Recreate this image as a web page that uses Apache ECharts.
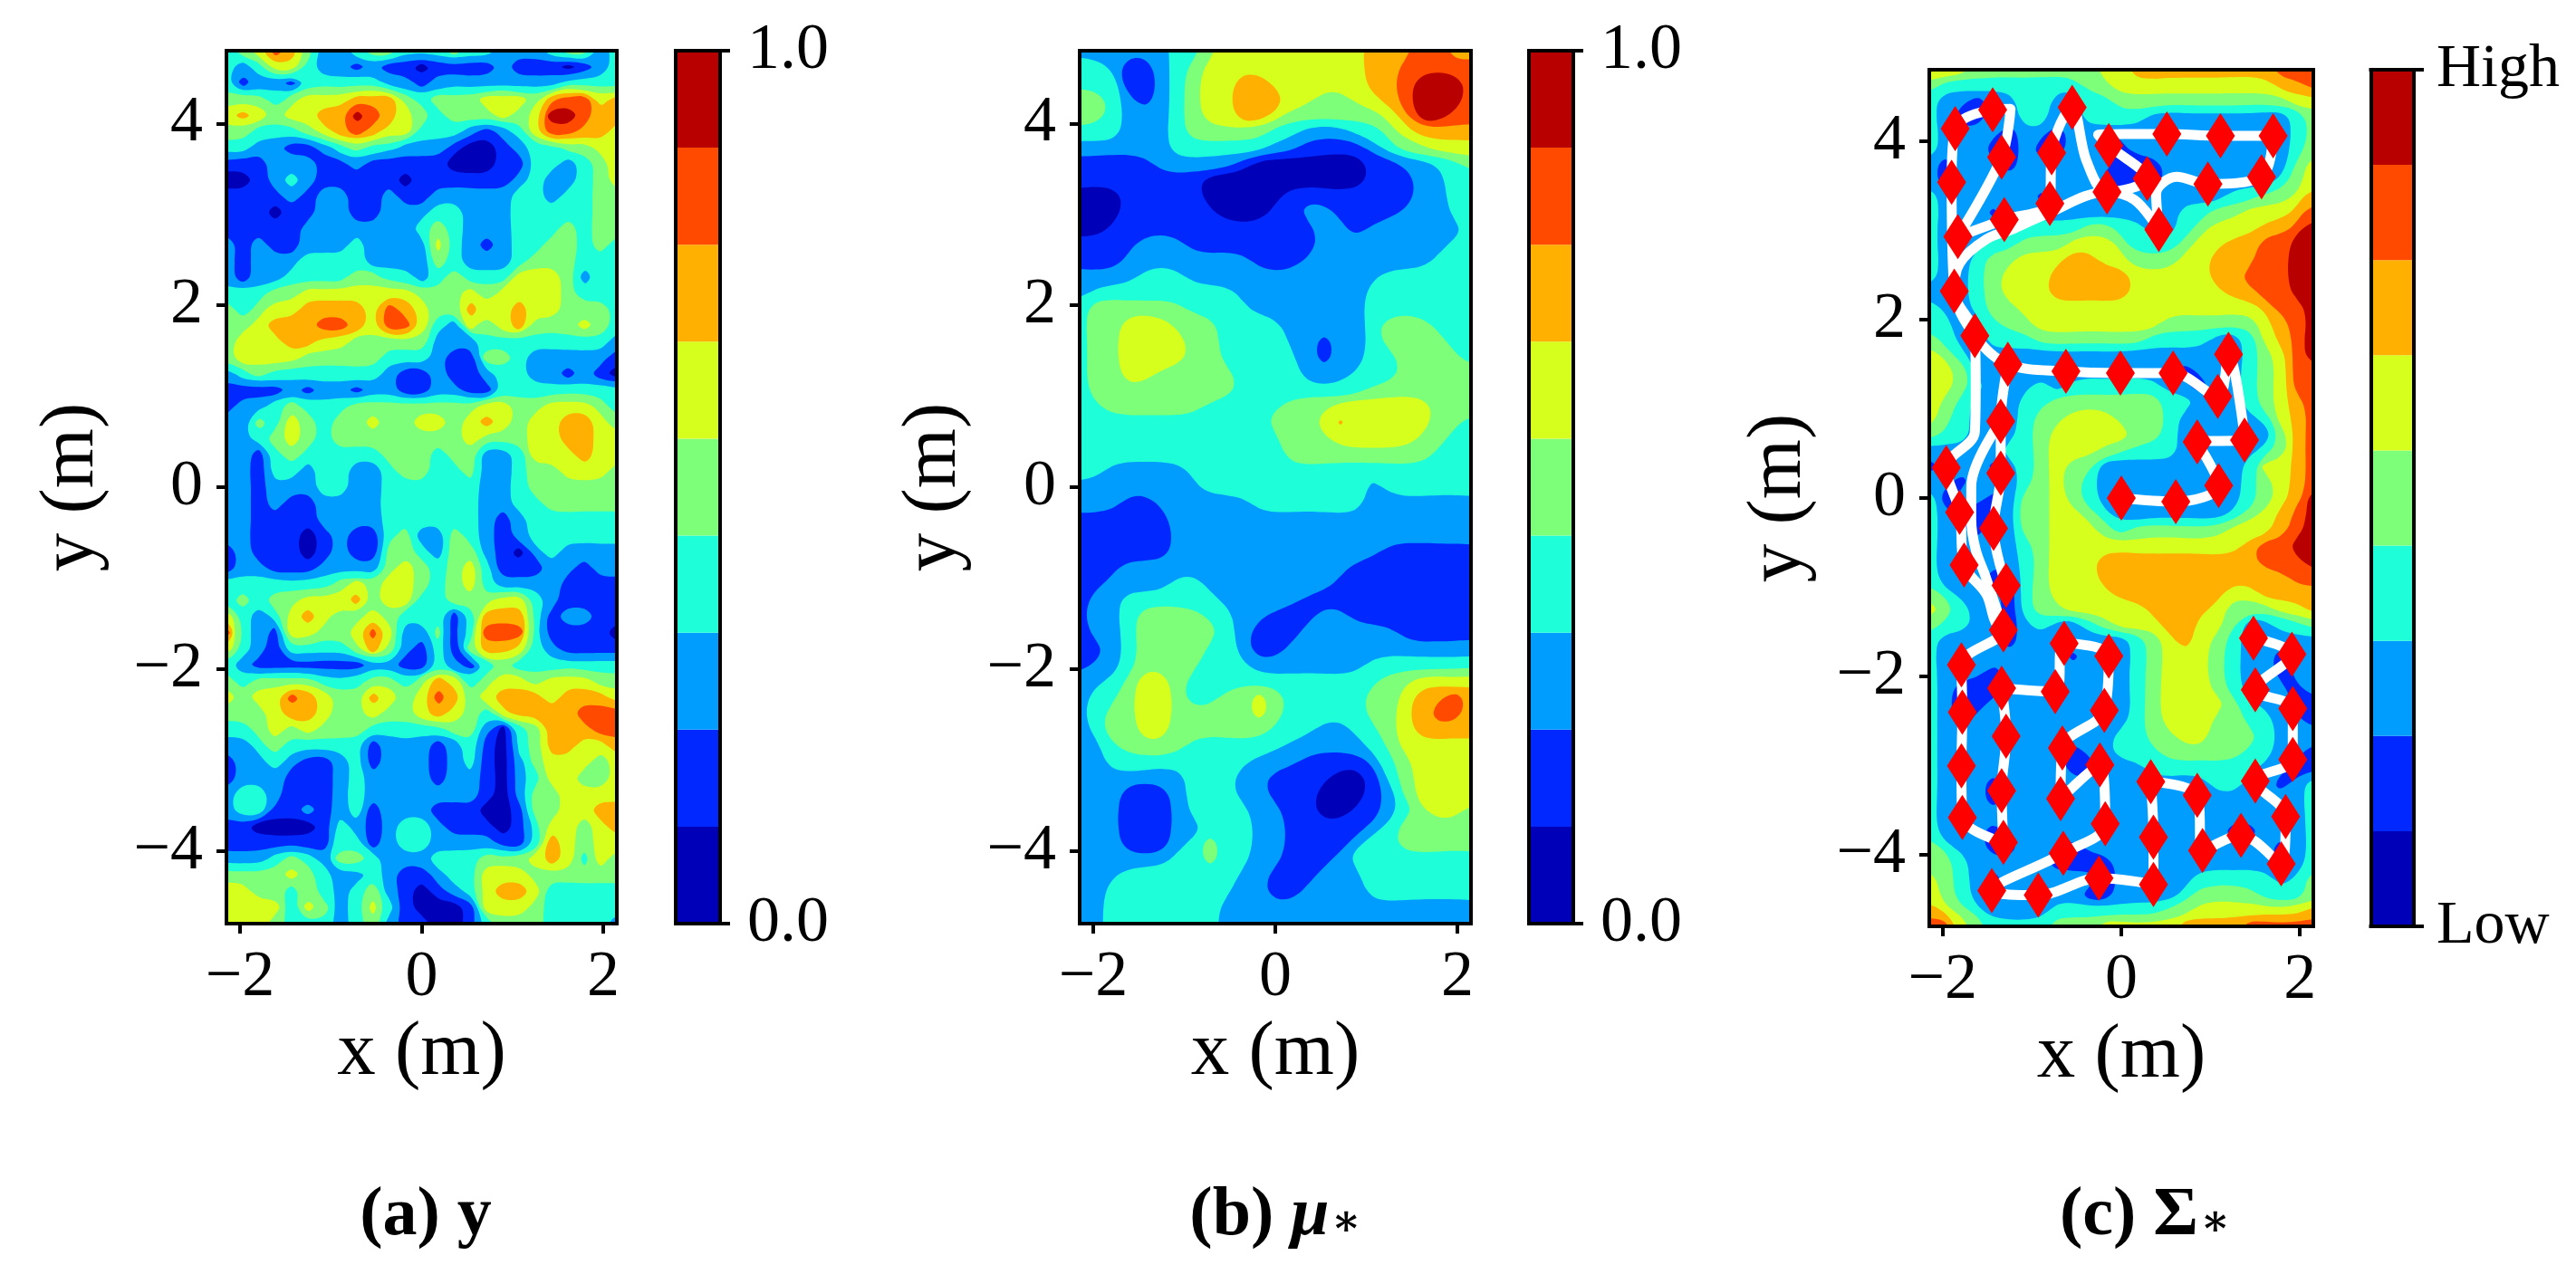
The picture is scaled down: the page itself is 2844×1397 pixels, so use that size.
<!DOCTYPE html>
<html><head><meta charset="utf-8">
<script src="https://cdn.jsdelivr.net/npm/echarts@6/dist/echarts.min.js"></script>
<style>html,body{margin:0;padding:0;background:#fff}#c{width:2844px;height:1397px}</style>
</head><body><div id="c"></div>
<script>
// Contour level (0..8) on a regular sample lattice; rows run from y=+4.8 down to y=-4.8, columns from x=-2.15 to x=+2.15
const levelsY = [
"3457642234433343322234423","3235532212110111121110123","3122133333221222222223333","4443455566643444555467756",
"5654556687654344454588766","4433345676553332123577665","3322112343322210012334455","1112221121111100011332345",
"0012321111101111112322345","1111212211211222223323344","1110112211222332223333344","1111122222223432223334344",
"2121122232222532123344343","2122233332222432223444333","2122333344332343335554233","3334455555554445455554333",
"4345566665765446556554443","4456667765775325456444543","4555665544444222333333332","4555544444333211443222221",
"2343333333211211233221210","1111212212211221133333333","1223433344444444554455543","2243543445445545654556654",
"2234543444444445444556655","2213433333444344223555655","2213323322344334223445554","2212223322333333223444444",
"2212112222333333223344444","2211112222333333212333333","2211101211342243212333333","1211101211443244210232222",
"1221112222454345311122122","3333333454554345322221111","3434455564553344455321111","5323565445433313666312211",
"7321554457522413777311110","5321333346421314665321111","3211111112211321343333333","4344443334434653455455544",
"5455765446545764566656665","4445665445445654356666777","3345454443333344203466677","2234333331222123103466556",
"1223211231222123102455545","1222111232222122102355445","2332111232222222102445555","2331121231222111001445566",
"1100001321233211101355456","1111111331233222211365455","2223432443222333444565354","4444543223211233555444444",
"5544343234210123566533333","5555354235310001555433333","5554333234211001344433332"];
const levelsMu = [
"2222223345555555556667766","3321123455555555556677777","3331123455665555556678887","4432123455666554455678887",
"4432223455665444444568877","3332223444443322233456666","2222223333332211112344555","1111122222100000001122334",
"1111111100000000001112233","0001111100000111111112233","0001111110001122111122233","0011111111111112212222223",
"1111222111111112222222233","1112222222211122222222333","2222333222222222222333333","2333333333222222223333333",
"3444444333322222223333333","3445554443333222223444333","3445555443333221223444433","3445555443333321223344443",
"3445544444333322233344444","3444444444333333334444444","3344444433333444555555444","3333333333334445655555443",
"3333333333333444555554433","3333333333333444444444333","3322222333333333333333333","2222222233333333332333333",
"2221122222233333332222222","1111112222222222222222222","1111112222222222222222222","1111112222222222222111111",
"1112222222222222211111111","1122223322222222111111111","1223333332222211111111111","1223444433221112211111111",
"1223444443211122222211111","1123444433211222222222222","1223444433322222223333333","2234554333333333333445555",
"2334554334454333334456676","2344554444454333334456776","2344554444443332233456666","2234444333333222223455555",
"2233333333322211112345555","2222222333221111001345555","2221112333221110001245555","2221112333322110011234554",
"2221112233322111112344444","2221112343322111123344444","2222223343322111233333333","2223333333221112223333333",
"2233333333221122223333333","2233333332222222222222222","2233333332222222222222222"];
const levelsSigma = [
"6554444444455666666666777","4333333333445555555555667","3221223322334444444444455","3211223322333322222222234",
"3222212212212222222222234","3222112112211222222222234","2122212222221112222221245","2122222222211112222222345",
"3222222122222222222334456","3222122222222222334455567","3222233333443322345556678","3222334445554333455667788",
"3223445556655444556667788","3223455566666555556677788","2223455566666555555667788","3223445555555555555556778",
"3322344555555554444445678","4322333444444433332235678","5432222222222222222234578","5542222222222222122234577",
"5543222323333332212234577","5432223344444443322234567","5432123445554443222223567","4332223455555443222222467",
"2222233455544333222223467","1222123454422222222235567","2212223454322222222234567","3122124454322222222234568",
"3211224455432222222345678","3221224455543444444555678","3222223455555555555567788","3222223455566666666667778",
"3222113455566666666666677","4322213455556666666556666","5432213445555566665444556","4332212322345556655422334",
"3222212222222345654322222","3222222221222345554322122","3222122222222345554322122","3211122222222345554322212",
"3211222222222345555432211","3212222222222345554433221","3222222222223344554443222","3222222221223334444433221",
"3212222221122233333332211","3222122222222222223322123","3222122222222222222222223","3212222222212222222222223",
"3222122222212212222112223","4322112221222212212222123","4432222211112222222222123","5432122222212222233333234",
"5432122222112222344443334","6543222233333334455555556","7754333344455555666677777"];

const xTicks = [-2, 0, 2];
const yTicks = [-4, -2, 0, 2, 4];
const barEdgeTicks = [0, 1];
const barLabelsNumeric = ["0.0", "1.0"];
const barLabelsSigma = ["Low", "High"];
const bandShare = [1/9, 1/9, 1/9, 1/9, 1/9, 1/9, 1/9, 1/9, 1/9];
const levelColors = ["#0000b9","#0028ff","#009dff","#1effd9","#7dff7a","#d7ff1e","#ffb000","#ff4a00","#b90000"];

// Sample locations (marker diamonds) in metres
const markerX = [-1.86,-1.44,-1.34,-1.90,-1.83,-1.31,-0.80,-0.78,-0.55,-0.14,-0.16,0.29,0.51,1.11,1.70,1.57,0.97,0.42,-1.87,-1.64,-1.27,-0.62,-0.01,0.58,1.20,1.08,1.38,0.85,1.09,0.61,0.00,-1.96,-1.35,-1.35,-1.81,-1.43,-1.76,-1.29,-1.32,-1.79,-1.34,-1.78,-1.29,-1.79,-1.34,-1.78,-1.32,-0.64,-0.14,-0.74,-0.19,-0.66,-0.24,-0.68,-0.18,-0.65,-0.25,-0.93,-1.45,0.36,0.36,0.33,0.85,0.91,1.34,1.79,1.84,1.50,1.92,1.92,1.50,1.91,1.48];
const markerY = [4.14,4.35,3.82,3.54,2.93,3.12,3.30,3.87,4.38,3.95,3.43,3.58,4.08,4.06,4.06,3.60,3.52,3.01,2.32,1.82,1.50,1.42,1.40,1.40,1.61,1.14,0.65,0.63,0.14,-0.04,0.00,0.34,0.86,0.28,-0.16,-0.34,-0.75,-0.98,-1.48,-1.87,-2.13,-2.40,-2.67,-3.00,-3.28,-3.58,-3.86,-1.63,-1.77,-2.17,-2.38,-2.80,-2.99,-3.37,-3.65,-3.98,-4.26,-4.45,-4.40,-4.33,-3.80,-3.18,-3.33,-3.95,-3.78,-4.10,-3.57,-3.17,-2.93,-2.36,-2.15,-1.75,-1.57];
// Robot route through those samples (null separates strands)
const routeX = [0.00,0.61,1.09,0.85,1.38,1.20,1.08,0.58,-0.01,-0.62,-1.27,-1.64,-1.87,-1.90,-1.86,-1.44,-1.24,-1.34,-1.83,-1.31,-0.80,-0.78,-0.55,-0.39,-0.16,0.29,-0.14,-0.26,0.51,1.11,1.70,1.57,0.97,0.62,0.39,0.42,0.15,-0.16,-0.87,-1.20,-1.51,-1.81,-1.87,-1.64,-1.63,-1.64,-1.96,-1.81,-1.76,-1.51,-1.41,-1.32,-1.79,-1.78,-1.79,-1.78,-1.32,-1.34,-1.29,-1.34,-0.74,-0.64,-0.14,-0.19,-0.66,-0.68,-0.24,-0.18,-0.65,-1.45,-0.93,-0.25,0.36,0.36,0.33,0.85,0.91,1.34,1.79,1.84,1.50,1.92,1.92,1.50,1.91,1.48,null,-1.27,-1.35,-1.35,-1.43,-1.29,null,-1.35,-1.68,-1.68,-1.63,-1.52,-1.32];
const routeY = [0.00,-0.04,0.14,0.63,0.65,1.61,1.14,1.40,1.40,1.42,1.50,1.82,2.32,3.54,4.14,4.35,4.36,3.82,2.93,3.12,3.30,3.87,4.38,3.78,3.43,3.58,3.95,4.07,4.08,4.06,4.06,3.60,3.52,3.60,3.41,3.01,3.34,3.43,3.17,3.02,2.90,2.63,2.32,1.82,1.25,0.74,0.34,-0.16,-0.75,-1.08,-1.39,-1.48,-1.87,-2.40,-3.00,-3.58,-3.86,-3.28,-2.67,-2.13,-2.17,-1.63,-1.77,-2.38,-2.80,-3.37,-2.99,-3.65,-3.98,-4.40,-4.45,-4.26,-4.33,-3.80,-3.18,-3.33,-3.95,-3.78,-4.10,-3.57,-3.17,-2.93,-2.36,-2.15,-1.75,-1.57,null,1.50,0.86,0.28,-0.34,-0.98,null,0.86,0.13,-0.24,-0.58,-0.88,-1.48];

const serif = '"Liberation Serif","DejaVu Serif",serif';
const XR = 2.15, YR = 4.8;
const panels = [
  {rows: levelsY,     fair: 1, g: {left: 250,  top: 56, width: 431, height: 964}, bar: {left: 746,    top: 56, width: 49, height: 964}, labels: barLabelsNumeric, labelSize: 72, nameGap: 128},
  {rows: levelsMu,    fair: 5, g: {left: 1192, top: 56, width: 432, height: 964}, bar: {left: 1688,   top: 56, width: 49, height: 964}, labels: barLabelsNumeric, labelSize: 72, nameGap: 118},
  {rows: levelsSigma, fair: 3, g: {left: 2130, top: 77, width: 424, height: 946}, bar: {left: 2617.5, top: 77, width: 47.5, height: 946}, labels: barLabelsSigma, labelSize: 68, nameGap: 123}
];

// Trace iso-lines between adjacent levels into closed loops (painter's order, largest first).
function traceLoops(rows, fair) {
  const PAD = 3, ny0 = rows.length, nx0 = rows[0].length, ny = ny0 + 2 * PAD, nx = nx0 + 2 * PAD;
  const at = (i, j) => {
    if (i === 0 || j === 0 || i === ny - 1 || j === nx - 1) return -9;
    const r = Math.min(ny0 - 1, Math.max(0, i - PAD)), c = Math.min(nx0 - 1, Math.max(0, j - PAD));
    return +rows[r][c];
  };
  const X = j => -XR + 2 * XR * (j - PAD) / (nx0 - 1), Y = i => YR - 2 * YR * (i - PAD) / (ny0 - 1);
  const loops = [{level: 0, area: Infinity, pts: [[-9, -9], [9, -9], [9, 9], [-9, 9]]}];
  for (let lev = 1; lev <= 8; lev++) {
    const t = lev - 0.5, next = {}, pos = {};
    for (let i = 0; i < ny - 1; i++) for (let j = 0; j < nx - 1; j++) {
      const corners = [[i, j], [i, j + 1], [i + 1, j + 1], [i + 1, j]];
      const keys = ['h' + i + '_' + j, 'v' + i + '_' + (j + 1), 'h' + (i + 1) + '_' + j, 'v' + i + '_' + j];
      const v = corners.map(p => at(p[0], p[1]));
      for (let e = 0; e < 4; e++) {
        const a = v[e], b = v[(e + 1) % 4];
        if ((a >= t) === (b >= t)) continue;
        const f = (t - a) / (b - a), p = corners[e], q = corners[(e + 1) % 4];
        pos[keys[e]] = [p[1] + f * (q[1] - p[1]), p[0] + f * (q[0] - p[0])];
        if (a < t) {
          let g = (e + 1) % 4;
          while (!(v[g] >= t && v[(g + 1) % 4] < t)) g = (g + 1) % 4;
          next[keys[e]] = keys[g];
        }
      }
    }
    const seen = {};
    Object.keys(next).forEach(k0 => {
      if (seen[k0]) return;
      let k = k0; const raw = [];
      while (k !== undefined && !seen[k]) { seen[k] = 1; raw.push(pos[k]); k = next[k]; }
      if (raw.length < 3) return;
      let a2 = 0;
      raw.forEach((p, n) => { const q = raw[(n + 1) % raw.length]; a2 += p[0] * q[1] - q[0] * p[1]; });
      // fair the staircase of the lattice without shrinking the shape
      let pts = raw;
      for (let it = 0; it < fair * 2; it++) {
        const w = it % 2 ? -0.53 : 0.5;
        pts = pts.map((p, n) => {
          const A = pts[(n + pts.length - 1) % pts.length], B = pts[(n + 1) % pts.length];
          return [p[0] + w * ((A[0] + B[0]) / 2 - p[0]), p[1] + w * ((A[1] + B[1]) / 2 - p[1])];
        });
      }
      loops.push({level: a2 < 0 ? lev : lev - 1, area: Math.abs(a2), pts: pts.map(p => [X(p[0]), Y(p[1])])});
    });
  }
  loops.sort((a, b) => b.area - a.area);
  return loops;
}

const grid = [], xAxis = [], yAxis = [], series = [];
const blackLine = {show: true, onZero: false, lineStyle: {color: '#000', width: 4, cap: 'square'}};
const fmt = v => String(v).replace('-', '\u2212');
panels.forEach((p, k) => {
  const gi = grid.length;
  grid.push(Object.assign({containLabel: false}, p.g));
  const xi = xAxis.length, yi = yAxis.length;
  xAxis.push({gridIndex: gi, type: 'value', min: -XR, max: XR, z: 10, position: 'bottom', name: 'x (m)', nameLocation: 'middle', nameGap: 100,
    nameTextStyle: {fontFamily: serif, fontSize: 85, color: '#000'}, axisLine: blackLine, splitLine: {show: false},
    axisTick: {show: true, inside: false, length: 11, customValues: xTicks, lineStyle: {color: '#000', width: 4}},
    axisLabel: {show: true, customValues: xTicks, margin: 24, fontFamily: serif, fontSize: 72, color: '#000', formatter: fmt}});
  xAxis.push({gridIndex: gi, type: 'value', min: -XR, max: XR, z: 10, position: 'top', axisLine: blackLine, splitLine: {show: false}, axisTick: {show: false}, axisLabel: {show: false}});
  yAxis.push({gridIndex: gi, type: 'value', min: -YR, max: YR, z: 10, position: 'left', name: 'y (m)', nameLocation: 'middle', nameGap: p.nameGap,
    nameTextStyle: {fontFamily: serif, fontSize: 85, color: '#000'}, axisLine: blackLine, splitLine: {show: false},
    axisTick: {show: true, inside: false, length: 11, customValues: yTicks, lineStyle: {color: '#000', width: 4}},
    axisLabel: {show: true, customValues: yTicks, margin: 26, fontFamily: serif, fontSize: 72, color: '#000', formatter: fmt}});
  yAxis.push({gridIndex: gi, type: 'value', min: -YR, max: YR, z: 10, position: 'right', axisLine: blackLine, splitLine: {show: false}, axisTick: {show: false}, axisLabel: {show: false}});
  const loops = traceLoops(p.rows, p.fair);
  series.push({type: 'custom', coordinateSystem: 'cartesian2d', xAxisIndex: xi, yAxisIndex: yi, silent: true, animation: false, z: 2, progressive: 0, clip: true,
    encode: {x: 0, y: 1}, dimensions: ['x', 'y', 'loop'],
    data: loops.map((l, i) => [l.pts[0][0], l.pts[0][1], i]),
    renderItem: (params, api) => {
      const l = loops[api.value(2)];
      return {type: 'polygon', silent: true, shape: {points: l.pts.map(q => api.coord(q)), smooth: l.area === Infinity ? 0 : 0.35},
        style: {fill: levelColors[l.level]}};
    }});
  if (k === 2) {
    series.push({type: 'line', xAxisIndex: xi, yAxisIndex: yi, z: 3, silent: true, animation: false, showSymbol: false, symbol: 'none', connectNulls: false, smooth: 0.35,
      lineStyle: {color: '#fff', width: 11, cap: 'round', join: 'round'}, data: routeX.map((v, i) => [v, routeY[i]])});
    series.push({type: 'scatter', xAxisIndex: xi, yAxisIndex: yi, z: 4, silent: true, animation: false, symbol: 'diamond', symbolSize: [32, 50],
      itemStyle: {color: '#ff0000', opacity: 1}, data: markerX.map((v, i) => [v, markerY[i]])});
  }
  // colour bar
  const bi = grid.length;
  grid.push(Object.assign({containLabel: false}, p.bar));
  const bxi = xAxis.length, byi = yAxis.length;
  xAxis.push({gridIndex: bi, type: 'category', data: [''], z: 10, position: 'bottom', axisLine: blackLine, axisTick: {show: false}, axisLabel: {show: false}, splitLine: {show: false}});
  xAxis.push({gridIndex: bi, type: 'category', data: [''], z: 10, position: 'top', axisLine: blackLine, axisTick: {show: false}, axisLabel: {show: false}, splitLine: {show: false}});
  yAxis.push({gridIndex: bi, type: 'value', min: 0, max: 1, z: 10, position: 'right', axisLine: blackLine, splitLine: {show: false},
    axisTick: {show: true, inside: false, length: 11, customValues: barEdgeTicks, lineStyle: {color: '#000', width: 4}},
    axisLabel: {show: true, customValues: barEdgeTicks, margin: k === 2 ? 25 : 30, fontFamily: serif, fontSize: p.labelSize, color: '#000', formatter: v => p.labels[v]}});
  yAxis.push({gridIndex: bi, type: 'value', min: 0, max: 1, z: 10, position: 'left', axisLine: blackLine, splitLine: {show: false}, axisTick: {show: false}, axisLabel: {show: false}});
  bandShare.forEach((s, i) => series.push({type: 'bar', xAxisIndex: bxi, yAxisIndex: byi, stack: 'bar' + k, barWidth: '100%', silent: true, animation: false, z: 2,
    itemStyle: {color: levelColors[i]}, data: [s]}));
});

const capStyle = {fontFamily: serif, fontSize: 76, fontWeight: 'bold', color: '#000', rich: {
  mu: {fontFamily: serif, fontSize: 76, fontWeight: 'bold', fontStyle: 'italic', color: '#000'},
  b: {fontFamily: serif, fontSize: 76, fontWeight: 'bold', color: '#000'},
  sub: {fontFamily: serif, fontSize: 48, color: '#000', padding: [18, 0, 0, 2]}
}};
const title = [
  {text: '{b|(a) y}', left: 470, top: 1305, textAlign: 'center', padding: 0, textStyle: capStyle},
  {text: '{b|(b) }{mu|\u03bc}{sub|\u2217}', left: 1408, top: 1305, textAlign: 'center', padding: 0, textStyle: capStyle},
  {text: '{b|(c) \u03a3}{sub|\u2217}', left: 2368, top: 1305, textAlign: 'center', padding: 0, textStyle: capStyle}
];

const chart = echarts.init(document.getElementById('c'), null, {renderer: 'canvas'});
chart.setOption({animation: false, backgroundColor: '#fff', title, grid, xAxis, yAxis, series, tooltip: {show: false}});
</script></body></html>
